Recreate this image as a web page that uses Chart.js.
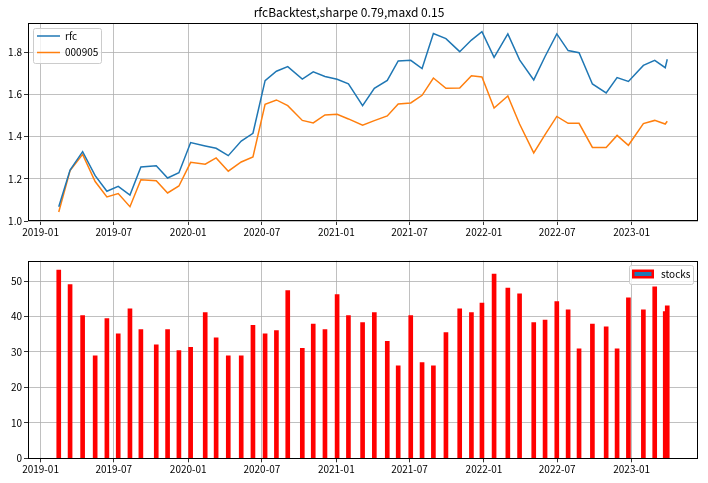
<!DOCTYPE html>
<html>
<head>
<meta charset="utf-8">
<script src="https://cdn.jsdelivr.net/npm/chart.js@4.4.1/dist/chart.umd.min.js"></script>
<style>
  body { margin: 0; background: #fff; }
  canvas { display: block; }
</style>
</head>
<body>
<canvas id="top" width="708" height="241"></canvas>
<canvas id="bottom" width="708" height="242"></canvas>
<script>
// rebalance dates
const dates = ['2019-02-15','2019-03-15','2019-04-15','2019-05-16','2019-06-14','2019-07-12','2019-08-10','2019-09-06',
  '2019-10-14','2019-11-11','2019-12-09','2020-01-07','2020-02-12','2020-03-10','2020-04-09','2020-05-11','2020-06-09',
  '2020-07-09','2020-08-06','2020-09-03','2020-10-09','2020-11-05','2020-12-04','2021-01-03','2021-01-31','2021-03-07',
  '2021-04-05','2021-05-07','2021-06-03','2021-07-04','2021-08-01','2021-08-29','2021-09-29','2021-11-02','2021-12-01',
  '2021-12-27','2022-01-26','2022-03-01','2022-03-30','2022-05-04','2022-06-01','2022-06-30','2022-07-28','2022-08-24',
  '2022-09-26','2022-10-30','2022-11-26','2022-12-24','2023-01-30','2023-02-27','2023-03-25','2023-03-30'];

const rfc = [1.068,1.242,1.329,1.215,1.141,1.164,1.123,1.256,1.262,1.204,1.229,1.372,1.356,1.345,1.310,1.379,1.416,
  1.666,1.710,1.732,1.673,1.707,1.685,1.672,1.650,1.547,1.629,1.667,1.759,1.762,1.723,1.889,1.865,1.803,1.858,
  1.898,1.776,1.887,1.764,1.669,1.780,1.887,1.808,1.798,1.650,1.607,1.680,1.662,1.738,1.762,1.727,1.767];

const zz500 = [1.043,1.239,1.316,1.187,1.114,1.130,1.068,1.196,1.191,1.133,1.166,1.278,1.269,1.299,1.236,1.280,1.304,
  1.553,1.574,1.547,1.477,1.465,1.503,1.506,1.484,1.454,1.476,1.498,1.555,1.560,1.596,1.678,1.629,1.631,1.689,
  1.683,1.536,1.593,1.460,1.323,1.410,1.496,1.463,1.463,1.349,1.349,1.406,1.359,1.462,1.477,1.460,1.473];

const stocks = [53.1,49.0,40.3,28.9,39.4,35.1,42.2,36.3,32.0,36.3,30.4,31.3,41.1,34.0,28.9,28.9,37.5,35.1,36.0,47.3,
  31.0,37.9,36.3,46.2,40.3,38.3,41.1,33.0,26.1,40.3,27.0,26.1,35.5,42.2,41.1,43.8,52.0,48.0,46.4,38.3,39.0,44.2,
  41.9,30.9,37.9,37.1,30.9,45.3,41.9,48.4,41.4,43.0];

const xTickLabels = ['2019-01','2019-07','2020-01','2020-07','2021-01','2021-07','2022-01','2022-07','2023-01'];
const topYTicks = [1.0, 1.2, 1.4, 1.6, 1.8];
const bottomYTicks = [0, 10, 20, 30, 40, 50];

const FONT = '"Noto Sans CJK SC", "Noto Sans", sans-serif';
Chart.defaults.font.family = FONT;
Chart.defaults.font.size = 10;
Chart.defaults.color = '#000';

// days since 2019-01-01
function dayOf(s) {
  const p = s.split('-');
  return (Date.UTC(+p[0], +p[1] - 1, +(p[2] || 1)) - Date.UTC(2019, 0, 1)) / 86400000;
}
const tickLabelOf = {};
xTickLabels.forEach(l => { tickLabelOf[dayOf(l)] = l; });

function xAxis(h) {
  return {
    type: 'linear', min: -31, max: 1625, offset: false,
    afterBuildTicks: s => { s.ticks = xTickLabels.map(l => ({ value: dayOf(l) })); },
    afterFit: s => { s.height = h; },
    ticks: { autoSkip: false, maxRotation: 0, padding: 1, callback: v => tickLabelOf[v] },
    grid: { color: '#b0b0b0', lineWidth: 0.8, tickColor: '#000', tickLength: 4, offset: false },
    border: { display: false }
  };
}

function yAxis(min, max, values, fmt) {
  return {
    min: min, max: max,
    afterBuildTicks: s => { s.ticks = values.map(v => ({ value: v })); },
    afterFit: s => { s.width = 28; },
    ticks: { padding: 2, callback: fmt },
    grid: { color: '#b0b0b0', lineWidth: 0.8, tickColor: '#000', tickLength: 4 },
    border: { display: false }
  };
}

const frame = {
  id: 'frame',
  afterDatasetsDraw(chart) {
    const { ctx, chartArea: a } = chart;
    ctx.save();
    ctx.strokeStyle = '#000';
    ctx.lineWidth = 1;
    ctx.strokeRect(Math.round(a.left) + 0.5, Math.round(a.top) + 0.5,
      Math.round(a.right - a.left) - 1, Math.round(a.bottom - a.top) - 1);
    ctx.restore();
  }
};

function roundBox(ctx, x, y, w, h) {
  ctx.beginPath();
  ctx.roundRect(x, y, w, h, 2);
  ctx.fillStyle = 'rgba(255,255,255,0.8)';
  ctx.fill();
  ctx.strokeStyle = '#cccccc';
  ctx.lineWidth = 1;
  ctx.stroke();
}

const lineLegend = {
  id: 'lineLegend',
  afterDraw(chart) {
    const ctx = chart.ctx;
    ctx.save();
    roundBox(ctx, 33.5, 28.5, 68, 35);
    ctx.font = '10px ' + FONT;
    ctx.textBaseline = 'middle';
    chart.data.datasets.forEach((ds, i) => {
      const y = 36 + i * 16.5;
      ctx.strokeStyle = ds.borderColor;
      ctx.lineWidth = 1.5;
      ctx.beginPath(); ctx.moveTo(37, y); ctx.lineTo(60, y); ctx.stroke();
      ctx.fillStyle = '#000';
      ctx.fillText(ds.label, 65, y);
    });
    ctx.restore();
  }
};

const barLegend = {
  id: 'barLegend',
  afterDraw(chart) {
    const ctx = chart.ctx;
    ctx.save();
    roundBox(ctx, 629.5, 24.5, 64, 19);
    ctx.fillStyle = '#ff0000';
    ctx.fillRect(632, 28.5, 22, 9);
    ctx.fillStyle = '#1f77b4';
    ctx.fillRect(634.5, 31, 17, 4);
    ctx.font = '10px ' + FONT;
    ctx.textBaseline = 'middle';
    ctx.fillStyle = '#000';
    ctx.fillText(chart.data.datasets[0].label, 661, 33.5);
    ctx.restore();
  }
};

new Chart(document.getElementById('top'), {
  type: 'line',
  data: {
    datasets: [
      { label: 'rfc', data: dates.map((d, i) => ({ x: dayOf(d), y: rfc[i] })),
        borderColor: '#1f77b4', borderWidth: 1.5, pointRadius: 0, tension: 0 },
      { label: '000905', data: dates.map((d, i) => ({ x: dayOf(d), y: zz500[i] })),
        borderColor: '#ff7f0e', borderWidth: 1.5, pointRadius: 0, tension: 0 }
    ]
  },
  options: {
    responsive: false, animation: false,
    layout: { padding: { left: 0, right: 10, top: 1, bottom: 0 } },
    plugins: {
      legend: { display: false }, tooltip: { enabled: false },
      title: { display: true, text: 'rfcBacktest,sharpe 0.79,maxd 0.15', color: '#000',
        font: { size: 12, weight: 'normal' }, padding: { top: 4, bottom: 4 } }
    },
    scales: {
      x: xAxis(20),
      y: yAxis(1.0, 1.937, topYTicks, v => v.toFixed(1))
    }
  },
  plugins: [frame, lineLegend]
});

new Chart(document.getElementById('bottom'), {
  type: 'bar',
  data: {
    datasets: [
      { label: 'stocks', data: dates.map((d, i) => ({ x: dayOf(d), y: stocks[i] })),
        backgroundColor: '#ff0000', barThickness: 4, grouped: false }
    ]
  },
  options: {
    responsive: false, animation: false,
    layout: { padding: { left: 0, right: 10, top: 19.7, bottom: 0 } },
    plugins: { legend: { display: false }, tooltip: { enabled: false } },
    scales: {
      x: xAxis(24.7),
      y: yAxis(0, 55.75, bottomYTicks, v => String(v))
    }
  },
  plugins: [frame, barLegend]
});
</script>
</body>
</html>
